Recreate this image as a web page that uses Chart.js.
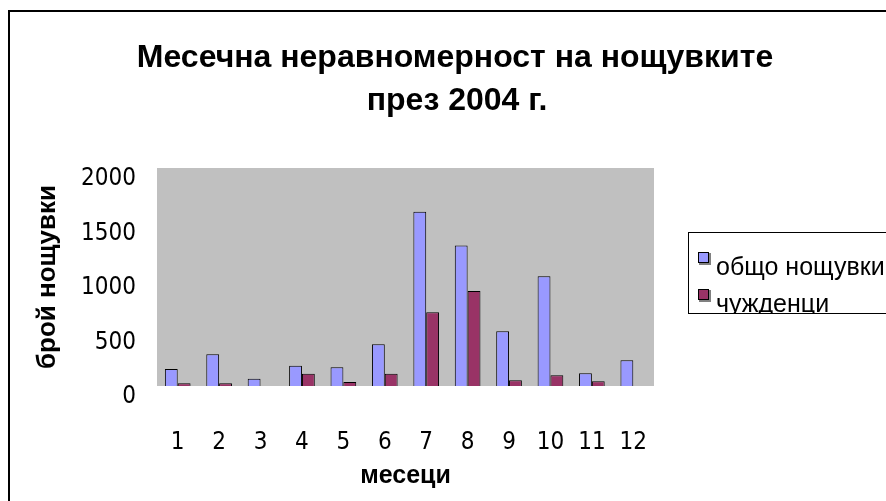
<!DOCTYPE html>
<html>
<head>
<meta charset="utf-8">
<script src="https://cdn.jsdelivr.net/npm/chart.js@4.4.1/dist/chart.umd.min.js"></script>
<style>
  html, body { margin: 0; padding: 0; background: #fff; overflow: hidden; }
  #wrap { position: relative; width: 886px; height: 501px; }
</style>
</head>
<body>
<div id="wrap"><canvas id="nightsChart" width="886" height="501"></canvas></div>
<script>
// Data
const months = ["1", "2", "3", "4", "5", "6", "7", "8", "9", "10", "11", "12"];
const totalNights = [156, 291, 67, 186, 171, 382, 1599, 1290, 502, 1006, 116, 236];
const foreigners = [25, 25, 0, 113, 37, 113, 676, 872, 52, 98, 43, 0];
const seriesNames = ["общо нощувки", "чужденци"];
const titleLines = ["Месечна неравномерност на нощувките", "през 2004 г."];
const yTitle = "брой нощувки";
const xTitle = "месеци";

const FONT = "'Liberation Sans', Arial, sans-serif";
const NARROW = "'Liberation Sans Narrow', 'DejaVu Sans Condensed', 'Liberation Sans', sans-serif";
const BLUE = "#9999ff";
const PLUM = "#993366";

// frame, grey plot background, title and the boxed legend
const decor = {
  id: "decor",
  beforeDraw(chart) {
    const { ctx, chartArea: a } = chart;
    ctx.save();
    ctx.fillStyle = "#000";
    ctx.fillRect(8, 10, 886, 2);
    ctx.fillRect(8, 10, 2, 501);
    ctx.fillStyle = "#c0c0c0";
    ctx.fillRect(a.left, a.top, a.right - a.left, a.bottom - a.top);
    ctx.restore();
  },
  afterDraw(chart) {
    const { ctx } = chart;
    ctx.save();
    ctx.fillStyle = "#000";
    ctx.textAlign = "center";
    ctx.textBaseline = "middle";
    ctx.font = "bold 32px " + FONT;
    ctx.fillText(titleLines[0], 455, 58);
    ctx.fillText(titleLines[1], 457, 101);

    // legend
    ctx.strokeStyle = "#000";
    ctx.lineWidth = 1;
    ctx.strokeRect(688.5, 232.5, 300, 81);
    ctx.save();
    ctx.beginPath();
    ctx.rect(689, 233, 300, 80);
    ctx.clip();
    const colors = [BLUE, PLUM];
    const rowsY = [265, 302];
    ctx.textAlign = "left";
    ctx.font = "25px " + FONT;
    chart.data.datasets.forEach((ds, i) => {
      const y = rowsY[i];
      ctx.fillStyle = "#808080";
      ctx.fillRect(699, y - 12, 12, 12);
      ctx.fillStyle = colors[i];
      ctx.fillRect(698, y - 13, 11, 11);
      ctx.strokeStyle = "#000";
      ctx.strokeRect(698.5, y - 12.5, 10, 10);
      ctx.fillStyle = "#000";
      ctx.fillText(ds.label, 716, y + 3);
    });
    ctx.restore();
    ctx.restore();
  }
};

new Chart(document.getElementById("nightsChart"), {
  type: "bar",
  data: {
    labels: months,
    datasets: [
      {
        label: seriesNames[0],
        data: totalNights,
        backgroundColor: BLUE,
        borderColor: "#000",
        borderWidth: 1,
        categoryPercentage: 0.62,
        barPercentage: 1.0
      },
      {
        label: seriesNames[1],
        data: foreigners,
        backgroundColor: PLUM,
        borderColor: "#000",
        borderWidth: 1,
        categoryPercentage: 0.62,
        barPercentage: 1.0
      }
    ]
  },
  options: {
    responsive: false,
    animation: false,
    layout: {
      padding: { top: 168, right: 232, bottom: 0, left: 0 }
    },
    plugins: {
      legend: { display: false },
      title: { display: false },
      tooltip: { enabled: false }
    },
    scales: {
      x: {
        grid: { display: false },
        border: { display: false },
        ticks: {
          color: "#000",
          padding: 34,
          font: { family: NARROW, size: 24 }
        },
        title: {
          display: true,
          text: xTitle,
          color: "#000",
          font: { family: FONT, size: 25, weight: "bold" },
          padding: { top: 0, bottom: 10 }
        },
        afterFit: (scale) => { scale.height = 115; }
      },
      y: {
        min: 0,
        max: 2000,
        grid: { display: false },
        border: { display: false },
        ticks: {
          stepSize: 500,
          color: "#000",
          padding: 13,
          labelOffset: 11,
          font: { family: NARROW, size: 24 },
          callback: (v) => String(v)
        },
        title: {
          display: true,
          text: yTitle,
          color: "#000",
          font: { family: FONT, size: 26, weight: "bold" },
          padding: { top: 32, bottom: 0 }
        },
        afterFit: (scale) => { scale.width = 157; }
      }
    }
  },
  plugins: [decor]
});
</script>
</body>
</html>
